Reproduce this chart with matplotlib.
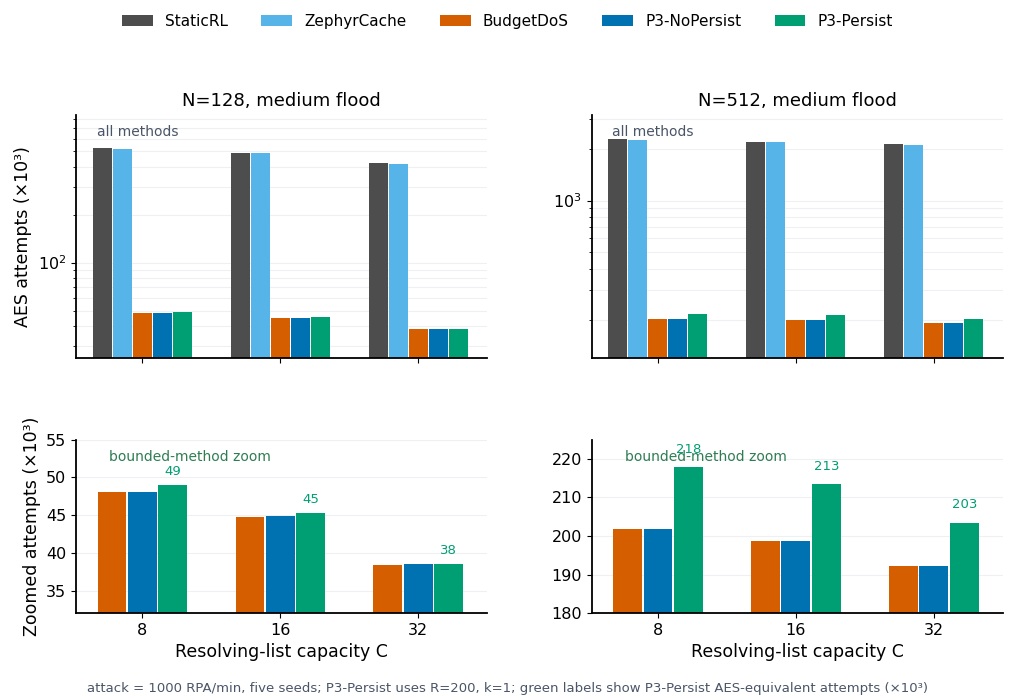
import numpy as np
import matplotlib.pyplot as plt

capacities = ["8", "16", "32"]
methods = ["StaticRL", "ZephyrCache", "BudgetDoS", "P3-NoPersist", "P3-Persist"]
colors = ["#4d4d4d", "#56b4e9", "#d55e00", "#0072b2", "#009e73"]

n128 = {
    "StaticRL": [522, 489, 420],
    "ZephyrCache": [520, 487, 418],
    "BudgetDoS": [48.0, 44.8, 38.4],
    "P3-NoPersist": [48.1, 44.9, 38.5],
    "P3-Persist": [49.0, 45.3, 38.5],
}
n512 = {
    "StaticRL": [2290, 2217, 2140],
    "ZephyrCache": [2250, 2200, 2120],
    "BudgetDoS": [201.7, 198.6, 192.2],
    "P3-NoPersist": [201.8, 198.7, 192.2],
    "P3-Persist": [217.8, 213.4, 203.4],
}
panels = [
    ("N=128, medium flood", n128, (25, 850), (32, 55), [35, 40, 45, 50, 55], 0.9, 0.075),
    ("N=512, medium flood", n512, (119, 3180), (180, 225), [180, 190, 200, 210, 220], 3.0, 0.583),
]

fig = plt.figure(figsize=(10.15, 7), dpi=100)
x = np.arange(len(capacities))
handles = []
for col, (title, data, ylim_top, ylim_bot, yt_bot, off, left) in enumerate(panels):
    axt = fig.add_axes([left, 0.488, 0.405, 0.348])
    axb = fig.add_axes([left, 0.124, 0.405, 0.248])
    w = 0.145
    for i, m in enumerate(methods):
        b = axt.bar(x + (i - 2) * w, data[m], w * 0.95, color=colors[i], label=m)
        if col == 0:
            handles.append(b)
    axt.set_yscale("log")
    axt.set_ylim(*ylim_top)
    axt.set_title(title, fontsize=13)
    axt.set_xticks(x)
    axt.set_xticklabels([])
    axt.text(0.05, 0.93, "all methods", transform=axt.transAxes, fontsize=10,
             color="#4a5568", va="center")
    wb = 0.22
    for j, m in enumerate(methods[2:]):
        axb.bar(x + (j - 1) * wb, data[m], wb * 0.95, color=colors[j + 2])
    for k, v in enumerate(data["P3-Persist"]):
        axb.text(x[k] + wb, v + off, f"{v:.0f}", ha="center", va="bottom",
                 fontsize=9.5, color="#009e73")
    axb.set_ylim(*ylim_bot)
    axb.set_yticks(yt_bot)
    axb.set_xticks(x)
    axb.set_xticklabels(capacities)
    axb.set_xlabel("Resolving-list capacity C", fontsize=12.5)
    axb.text(0.08, 0.9, "bounded-method zoom", transform=axb.transAxes, fontsize=10,
             color="#2e7d52", va="center")
    for ax in (axt, axb):
        ax.set_xlim(-0.48, 2.5)
        ax.spines["top"].set_visible(False)
        ax.spines["right"].set_visible(False)
        ax.spines["left"].set_linewidth(1.3)
        ax.spines["bottom"].set_linewidth(1.3)
        ax.grid(axis="y", which="both", color="#eef0f4", linewidth=0.8)
        ax.set_axisbelow(True)
        ax.tick_params(labelsize=11.5)
    if col == 0:
        axt.set_ylabel("AES attempts (×10³)", fontsize=12.5)
        axb.set_ylabel("Zoomed attempts (×10³)", fontsize=12.5)

fig.legend(handles=handles, labels=methods, loc="upper center", ncol=5,
           frameon=False, fontsize=11, bbox_to_anchor=(0.5, 1.0), columnspacing=2.2)
fig.text(0.5, 0.012, "attack = 1000 RPA/min, five seeds; P3-Persist uses R=200, k=1; "
         "green labels show P3-Persist AES-equivalent attempts (×10³)",
         ha="center", fontsize=9.5, color="#4a5568")
fig.savefig("out.png", dpi=100)
